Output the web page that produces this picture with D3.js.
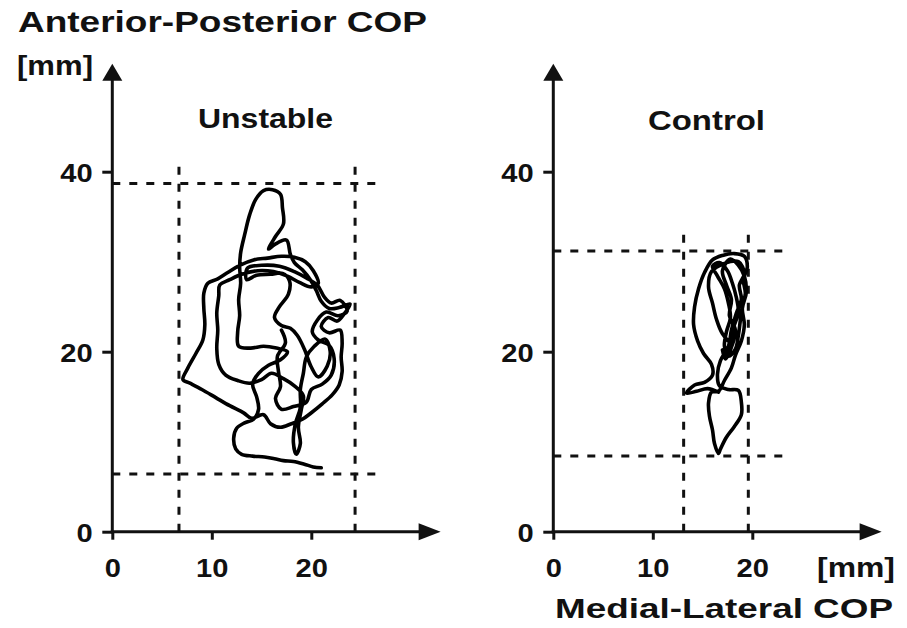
<!DOCTYPE html>
<html>
<head>
<meta charset="utf-8">
<script src="https://cdn.jsdelivr.net/npm/d3@7"></script>
<style>
  body { margin: 0; background: #fff; }
  text { font-family: Arial, "Liberation Sans", sans-serif; font-weight: bold; fill: #111; }
</style>
</head>
<body>
<svg id="chart" width="907" height="628"></svg>
<script>
// tick labels (mm)
const xTicks = [0, 10, 20];
const yTicks = [0, 20, 40];
const panelNames = ["Unstable", "Control"];

// COP trace on the unstable surface, [medial-lateral, anterior-posterior] in mm
const unstableTrace = [
  [21.0, 7.1], [20.2, 7.2], [19.3, 7.5], [18.2, 7.8], [17.2, 7.9], [16.3, 8.1], [15.3, 8.3], [14.1, 8.4],
  [13.0, 8.6], [12.4, 9.2], [12.2, 10.4], [12.5, 11.5], [13.3, 12.1], [14.2, 12.5], [14.7, 13.6], [14.5, 15.0],
  [14.1, 16.4], [14.7, 17.6], [15.7, 18.5], [16.9, 19.1], [17.6, 20.0],
  [16.5, 20.4], [15.2, 20.6], [13.9, 20.4], [12.7, 20.6], [12.6, 22.2], [12.8, 24.0], [12.7, 25.8], [12.9, 27.6],
  [12.8, 29.4], [12.9, 31.0], [13.3, 33.0], [13.8, 35.2], [14.4, 36.9], [15.2, 37.9], [16.1, 38.0], [16.9, 37.5],
  [17.1, 36.0], [17.2, 34.2],
  [16.4, 32.8], [15.7, 31.4], [16.3, 31.9], [17.5, 32.4], [17.9, 30.8], [18.3, 29.9], [19.1, 29.1], [19.9, 28.0],
  [20.5, 26.8], [21.0, 25.6], [21.8, 24.8], [22.8, 24.9], [23.9, 25.3],
  [23.3, 24.2], [22.6, 23.4], [21.7, 23.8], [21.0, 22.8], [21.8, 22.1], [22.9, 22.4], [23.1, 21.0], [23.0, 19.4],
  [23.1, 17.8], [22.8, 16.3], [22.1, 15.2], [21.1, 14.2], [20.1, 13.3], [19.1, 12.5], [18.0, 12.0], [16.9, 11.6],
  [15.9, 12.0], [15.2, 13.0],
  [14.0, 12.6], [13.2, 13.2], [11.8, 14.0], [10.4, 14.9], [9.0, 15.8], [7.8, 16.5], [7.1, 16.9], [7.6, 18.2],
  [8.4, 19.8], [9.1, 21.3], [9.3, 23.0], [9.2, 24.8], [9.2, 26.5], [9.6, 27.6], [10.6, 28.1],
  [11.6, 28.8], [12.8, 29.6], [14.2, 30.2], [15.6, 30.4], [17.0, 30.6], [18.3, 30.5], [19.4, 30.0], [20.2, 29.0],
  [20.7, 27.6], [20.0, 27.2], [18.8, 27.7], [17.6, 28.4], [16.2, 28.9], [14.6, 29.0], [13.0, 28.6], [11.8, 28.0],
  [10.8, 27.4],
  [10.7, 26.2], [10.5, 24.3], [10.6, 22.4], [10.5, 20.4], [10.7, 18.6], [11.4, 17.4], [12.6, 16.8], [13.8, 16.5],
  [15.0, 16.9], [16.0, 17.6], [17.2, 17.0], [18.3, 16.2], [19.2, 15.1], [19.0, 13.6], [18.7, 11.6], [18.9, 9.8],
  [18.5, 8.6],
  [18.2, 9.9], [18.4, 12.0], [18.9, 13.8], [18.9, 15.8], [19.2, 17.6], [19.5, 19.4], [20.3, 20.6], [21.4, 21.4],
  [21.9, 20.0], [21.6, 18.4], [20.7, 17.2], [20.0, 18.3], [19.3, 20.3], [18.6, 21.8], [17.9, 22.6], [17.0, 22.9],
  [16.3, 23.8], [16.8, 25.0], [17.7, 26.4], [17.8, 27.9], [17.1, 28.7], [15.9, 28.6], [14.5, 28.5], [13.5, 28.0],
  [13.6, 29.3], [15.0, 29.6], [16.8, 29.5], [18.3, 28.9], [19.5, 28.2], [20.6, 27.4], [21.3, 26.1], [22.0, 25.4],
  [22.9, 25.7], [23.6, 24.5], [22.7, 24.0], [21.5, 24.4], [20.6, 23.5], [20.1, 22.2], [20.7, 21.3], [21.8, 20.7],
  [22.3, 19.2], [22.0, 17.4], [21.1, 16.4], [20.0, 15.8], [19.5, 14.4], [18.2, 13.9], [17.0, 13.6], [16.4, 14.8],
  [16.9, 16.1], [16.7, 17.8], [16.6, 19.5], [17.4, 21.0], [17.0, 22.4]
];

// COP trace on the control surface, [medial-lateral, anterior-posterior] in mm
const controlTrace = [
  [16.6, 15.5], [15.5, 15.9], [14.4, 15.6], [13.4, 15.4], [14.2, 16.3], [15.2, 16.6], [16.0, 17.4], [15.9, 18.6],
  [15.1, 19.8], [14.5, 21.2], [14.1, 23.0], [14.2, 25.0], [14.6, 27.0], [15.2, 28.8], [16.0, 30.2], [17.0, 30.7],
  [18.2, 30.9], [19.2, 30.6], [19.5, 29.4], [19.1, 28.0], [19.3, 26.5], [19.0, 25.0], [18.8, 23.5], [18.6, 21.8],
  [18.3, 20.3], [17.6, 19.5], [17.2, 20.6], [17.4, 22.2], [17.8, 23.8], [17.6, 25.4], [17.2, 27.0], [16.5, 28.4],
  [16.0, 29.5], [16.7, 29.9], [17.5, 29.0], [18.0, 27.6], [18.4, 26.0], [18.6, 24.4], [18.1, 22.6], [17.9, 21.0],
  [17.0, 22.0], [16.4, 23.6], [16.0, 25.4], [15.6, 27.2], [15.9, 28.9], [17.2, 29.8], [18.6, 30.0], [19.2, 28.7],
  [18.7, 27.4], [18.9, 25.8], [18.4, 24.3], [17.9, 22.4], [17.6, 20.6], [16.8, 19.0], [16.5, 17.5], [16.7, 16.2],
  [17.6, 15.8], [18.6, 15.7], [18.9, 14.4], [18.9, 13.0], [18.2, 11.7], [17.4, 10.5], [16.8, 9.2], [16.6, 8.7],
  [16.2, 9.8], [16.0, 11.3], [15.7, 12.8], [15.6, 14.3], [15.9, 15.5], [16.6, 15.6], [17.2, 16.8], [17.9, 18.2],
  [18.3, 19.6], [18.9, 21.2], [19.2, 23.0], [19.0, 24.8], [19.4, 26.6], [19.2, 28.4], [18.6, 29.6], [17.8, 30.3],
  [17.0, 29.0], [17.4, 27.4], [17.9, 25.8], [17.7, 24.0], [18.3, 22.4], [18.0, 20.8], [17.3, 19.2], [17.0, 20.2]
];

// range lines (min / max of each trace, mm)
const unstableRangeML = [6.7, 24.4];
const unstableRangeAP = [6.4, 38.7];
const controlRangeML = [13.1, 19.6];
const controlRangeAP = [8.4, 31.2];

const svg = d3.select("#chart");

const panels = [
  { name: panelNames[0], trace: unstableTrace, rangeML: unstableRangeML, rangeAP: unstableRangeAP,
    x0: 112.3, nameX: 198, nameW: 135, nameY: 128, hEnd: 27.3, vTop: 41.1 },
  { name: panelNames[1], trace: controlTrace, rangeML: controlRangeML, rangeAP: controlRangeAP,
    x0: 553.3, nameX: 648, nameW: 117, nameY: 130, hEnd: 23.6, vTop: 33.2 }
];

const y0 = 531.7;
const pxPerMmX = 9.95;
const pxPerMmY = 9.0;
const stretch = "scale(1.12,1)";

panels.forEach(p => {
  const x = d3.scaleLinear().domain([0, 20]).range([p.x0, p.x0 + 20 * pxPerMmX]);
  const y = d3.scaleLinear().domain([0, 40]).range([y0, y0 - 40 * pxPerMmY]);
  const g = svg.append("g");

  // dotted range lines
  const dash = g.append("g")
    .attr("stroke", "#111")
    .attr("stroke-width", 3)
    .attr("stroke-dasharray", "8,9");
  p.rangeML.forEach(v => {
    dash.append("line")
      .attr("x1", x(v)).attr("x2", x(v))
      .attr("y1", y(0)).attr("y2", y(p.vTop));
  });
  p.rangeAP.forEach(v => {
    dash.append("line")
      .attr("x1", x(0)).attr("x2", x(p.hEnd))
      .attr("y1", y(v)).attr("y2", y(v));
  });

  // COP trace
  const line = d3.line()
    .x(d => x(d[0]))
    .y(d => y(d[1]))
    .curve(d3.curveCatmullRom.alpha(0.5));
  g.append("path")
    .datum(p.trace)
    .attr("d", line)
    .attr("fill", "none")
    .attr("stroke", "#000")
    .attr("stroke-width", 3.6)
    .attr("stroke-linejoin", "round")
    .attr("stroke-linecap", "round");

  // axes
  const xAxis = g.append("g")
    .attr("transform", `translate(0,${y0})`)
    .call(d3.axisBottom(x).tickValues(xTicks).tickSize(8).tickPadding(19).tickSizeOuter(0));
  const yAxis = g.append("g")
    .attr("transform", `translate(${p.x0},0)`)
    .call(d3.axisLeft(y).tickValues(yTicks).tickSize(10).tickPadding(7.5).tickSizeOuter(0));

  [xAxis, yAxis].forEach(a => {
    a.select(".domain").remove();
    a.selectAll(".tick line").attr("stroke", "#111").attr("stroke-width", 3);
    a.selectAll(".tick text")
      .attr("fill", "#111")
      .style("font-size", "26px")
      .attr("transform", stretch);
  });
  yAxis.selectAll(".tick text").attr("dy", "0.36em");

  // axis lines with arrow heads
  const xEnd = x(33);
  const yEnd = y(52);
  g.append("line")
    .attr("x1", p.x0 - 1.5).attr("x2", xEnd - 18)
    .attr("y1", y0).attr("y2", y0)
    .attr("stroke", "#111").attr("stroke-width", 3);
  g.append("path")
    .attr("d", `M${xEnd},${y0} L${xEnd - 22},${y0 - 8.5} L${xEnd - 22},${y0 + 8.5} Z`)
    .attr("fill", "#111");
  g.append("line")
    .attr("x1", p.x0).attr("x2", p.x0)
    .attr("y1", y0 + 1.5).attr("y2", yEnd + 14)
    .attr("stroke", "#111").attr("stroke-width", 3);
  g.append("path")
    .attr("d", `M${p.x0},${yEnd} L${p.x0 - 10},${yEnd + 17} L${p.x0 + 10},${yEnd + 17} Z`)
    .attr("fill", "#111");

  // panel name
  g.append("text")
    .attr("x", p.nameX).attr("y", p.nameY)
    .attr("textLength", p.nameW).attr("lengthAdjust", "spacingAndGlyphs")
    .style("font-size", "27px")
    .text(p.name);
});

// axis titles
const labels = [
  { t: "Anterior-Posterior COP", x: 18, y: 32, w: 409, s: 29 },
  { t: "[mm]", x: 17, y: 75, w: 76, s: 27 },
  { t: "[mm]", x: 817, y: 577, w: 78, s: 27 },
  { t: "Medial-Lateral COP", x: 555, y: 618, w: 338, s: 28 }
];
svg.selectAll("text.axis-title")
  .data(labels)
  .enter()
  .append("text")
  .attr("class", "axis-title")
  .attr("x", d => d.x)
  .attr("y", d => d.y)
  .attr("textLength", d => d.w)
  .attr("lengthAdjust", "spacingAndGlyphs")
  .style("font-size", d => d.s + "px")
  .text(d => d.t);
</script>
</body>
</html>
